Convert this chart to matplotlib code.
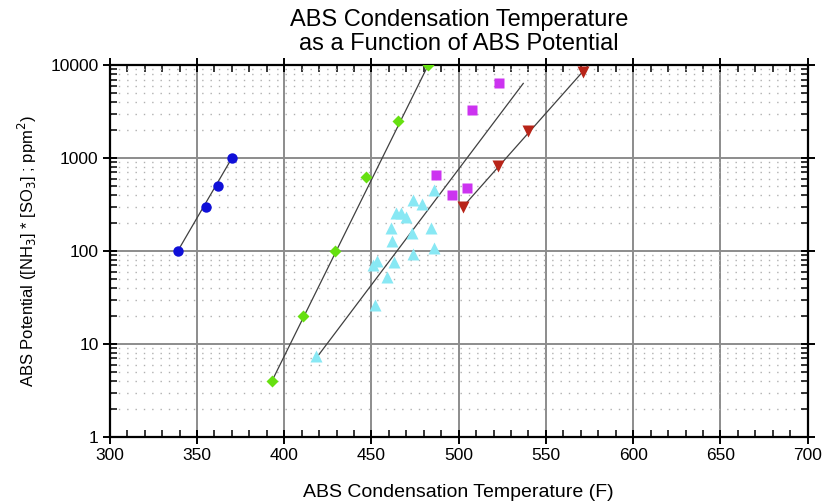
import numpy as np
import matplotlib
matplotlib.use("Agg")
import matplotlib.pyplot as plt
from matplotlib.ticker import MultipleLocator, LogLocator, NullFormatter, FixedLocator

plt.rcParams['font.family'] = ['Liberation Sans', 'DejaVu Sans']

# measured points, temperature (F) vs ABS potential (ppm^2)
blue_temp = [339, 355, 362, 370]
blue_abs = [100, 300, 500, 1000]

green_temp = [393, 410.5, 429, 447, 465, 482.5]
green_abs = [4, 20, 100, 620, 2500, 10000]

cyan_temp = [418, 451, 452, 453, 459, 462, 461, 463, 464, 467, 470, 473,
             474, 474, 479, 484, 486, 486]
cyan_abs = [7.5, 71, 26, 79, 52, 128, 178, 77, 254, 258, 230, 155,
            353, 92, 320, 178, 453, 107]

magenta_temp = [487, 496, 505, 507.5, 523]
magenta_abs = [650, 400, 475, 3260, 6360]

red_temp = [502.5, 522.5, 540, 571]
red_abs = [300, 826, 1970, 8340]

# trend lines (end points)
blue_fit_temp = [339, 370]
blue_fit_abs = [100, 1000]
green_fit_temp = [393, 482.5]
green_fit_abs = [4, 10000]
cyan_fit_temp = [419, 537]
cyan_fit_abs = [7.3, 6360]
red_fit_temp = [502.5, 574]
red_fit_abs = [300, 9800]

fig = plt.figure(figsize=(8.25, 5.01), dpi=100)
ax = fig.add_axes([0.133, 0.128, 0.846, 0.742])

line_kw = dict(color='#404040', lw=0.9, zorder=3)
ax.plot(blue_fit_temp, blue_fit_abs, **line_kw)
ax.plot(green_fit_temp, green_fit_abs, **line_kw)
ax.plot(cyan_fit_temp, cyan_fit_abs, **line_kw)
ax.plot(red_fit_temp, red_fit_abs, **line_kw)

ax.plot(blue_temp, blue_abs, 'o', color='#1010d8', ms=7.5, mec='none', zorder=4)
ax.plot(green_temp, green_abs, 'D', color='#66e010', ms=6.5, mec='none', zorder=4)
ax.plot(cyan_temp, cyan_abs, '^', color='#88e8f4', ms=8.5, mec='none', zorder=4)
ax.plot(magenta_temp, magenta_abs, 's', color='#cc33f0', ms=7.5, mec='none', zorder=4)
ax.plot(red_temp, red_abs, 'v', color='#b82418', ms=8.5, mec='none', zorder=4)

ax.set_yscale('log')
ax.set_xlim(300, 700)
ax.set_ylim(1, 10000)

ax.xaxis.set_major_locator(MultipleLocator(50))
ax.xaxis.set_minor_locator(MultipleLocator(10))
ax.yaxis.set_major_locator(FixedLocator([1, 10, 100, 1000, 10000]))
ax.yaxis.set_major_formatter(plt.FuncFormatter(lambda v, p: '%d' % v))
ax.yaxis.set_minor_locator(LogLocator(base=10, subs=np.arange(2, 10)))
ax.yaxis.set_minor_formatter(NullFormatter())

ax.grid(which='major', color='#8c8c8c', lw=1.4, zorder=1)
ax.grid(which='minor', axis='y', color='#b0b0b0', lw=1.0,
        linestyle=(0, (1, 5)), zorder=1)

for s in ax.spines.values():
    s.set_linewidth(1.6)
    s.set_color('black')

ax.tick_params(which='major', direction='inout', length=10, width=1.4,
               top=True, right=True, labelsize=12.5, pad=3)
ax.tick_params(which='minor', direction='in', length=5, width=1.1,
               top=True, right=True)

ax.set_xlabel('ABS Condensation Temperature (F)', fontsize=14, labelpad=15)
ax.set_ylabel('ABS Potential ([NH$_3$] * [SO$_3$] ; ppm$^2$)', fontsize=12,
              labelpad=8)
ax.set_title('ABS Condensation Temperature\nas a Function of ABS Potential',
             fontsize=17, pad=11, linespacing=1.1)

fig.savefig('out.png', dpi=100)
